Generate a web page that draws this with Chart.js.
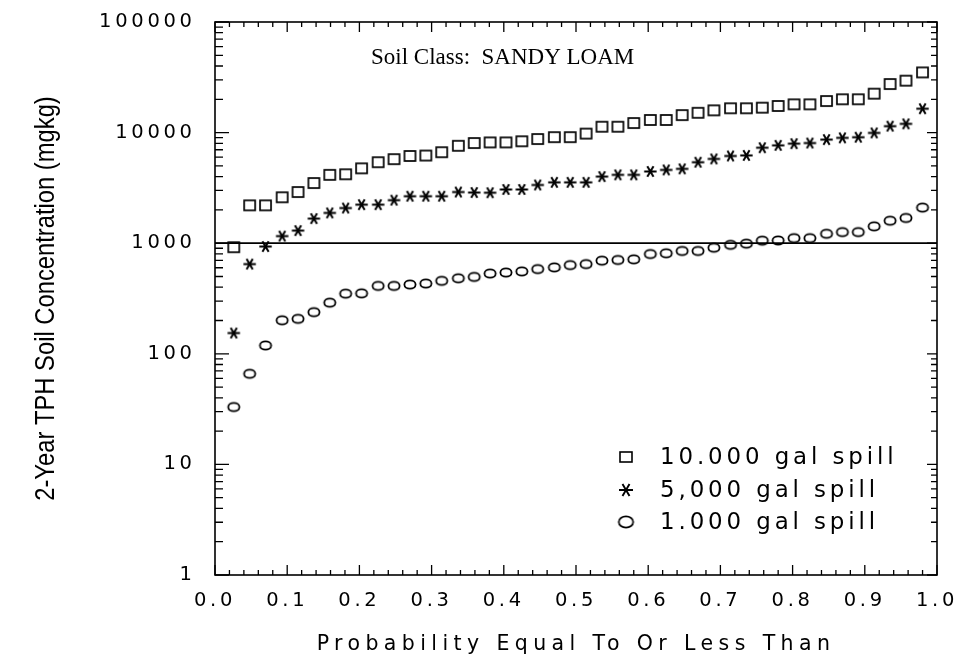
<!DOCTYPE html>
<html>
<head>
<meta charset="utf-8">
<script src="https://cdn.jsdelivr.net/npm/chart.js@4/dist/chart.umd.min.js"></script>
<style>
  html, body { margin: 0; padding: 0; background: #ffffff; }
  canvas { display: block; }
</style>
</head>
<body>
<canvas id="chart" width="961" height="666"></canvas>
<script>
// Cumulative probability of each ranked simulation result
const probability = [
  0.026, 0.048, 0.070, 0.093, 0.115, 0.137, 0.159, 0.181, 0.203, 0.226, 0.248,
  0.270, 0.292, 0.314, 0.337, 0.359, 0.381, 0.403, 0.425, 0.447, 0.470, 0.492,
  0.514, 0.536, 0.558, 0.580, 0.603, 0.625, 0.647, 0.669, 0.691, 0.714, 0.736,
  0.758, 0.780, 0.802, 0.824, 0.847, 0.869, 0.891, 0.913, 0.935, 0.957, 0.980
];

// 2-year TPH soil concentration (mg/kg) for each spill volume
const spill10000 = [
  920, 2200, 2200, 2600, 2900, 3500, 4150, 4200, 4750, 5400, 5750,
  6150, 6200, 6650, 7600, 8050, 8150, 8150, 8350, 8750, 9100, 9100,
  9800, 11300, 11300, 12200, 13000, 13000, 14400, 15100, 15900, 16600, 16600,
  16800, 17400, 18000, 18000, 19300, 20000, 20000, 22500, 27500, 29500, 35000
];
const spill5000 = [
  154, 647, 933, 1160, 1300, 1670, 1880, 2080, 2230, 2230, 2450,
  2660, 2660, 2660, 2900, 2870, 2860, 3060, 3060, 3360, 3550, 3550,
  3550, 4000, 4150, 4150, 4450, 4600, 4700, 5400, 5780, 6150, 6220,
  7300, 7670, 7940, 8050, 8650, 8960, 9080, 9940, 11430, 12000, 16440
];
const spill1000 = [
  33, 66, 119, 201, 207, 238, 290, 350, 352, 411, 411,
  423, 432, 457, 482, 496, 532, 543, 556, 583, 604, 634,
  647, 695, 705, 715, 798, 811, 851, 851, 910, 966, 990,
  1055, 1059, 1111, 1111, 1216, 1260, 1260, 1420, 1597, 1690, 2100
];

const seriesLabels = ['10.000 gal spill', '5,000 gal spill', '1.000 gal spill'];

// Horizontal reference level across the full probability range
const referenceX = [0, 1];
const referenceLevel = [1000, 1000];

const xTickLabels = ['0.0', '0.1', '0.2', '0.3', '0.4', '0.5', '0.6', '0.7', '0.8', '0.9', '1.0'];
const yTickLabels = ['1', '10', '100', '1000', '10000', '100000'];

const xTitle = 'Probability Equal To Or Less Than';
const yTitle = '2-Year TPH Soil Concentration (mgkg)';
const soilClassNote = 'Soil Class:  SANDY LOAM';

const SANS = '"DejaVu Sans", Verdana, sans-serif';
const NARROW = '"Liberation Sans", Arial, sans-serif';
const SERIF = '"Liberation Serif", "Times New Roman", serif';

// ---- marker glyphs (open square, asterisk, open ellipse) ----
function makeMarker(w, h, lw, draw) {
  const c = document.createElement('canvas');
  c.width = w; c.height = h;
  const g = c.getContext('2d');
  g.strokeStyle = '#000';
  g.lineWidth = lw;
  g.lineCap = 'butt';
  draw(g, w / 2, h / 2);
  return c;
}
function squareGlyph(w, h, lw) {
  return makeMarker(w + 4, h + 4, lw, (g, cx, cy) => g.strokeRect(cx - w / 2, cy - h / 2, w, h));
}
function starGlyph(r, lw) {
  const s = Math.ceil(2 * r + 4);
  return makeMarker(s, s, lw, (g, cx, cy) => {
    g.beginPath();
    for (const a of [0, Math.PI / 3, 2 * Math.PI / 3]) {
      const dx = r * Math.cos(a), dy = r * Math.sin(a);
      g.moveTo(cx - dx, cy - dy);
      g.lineTo(cx + dx, cy + dy);
    }
    g.stroke();
  });
}
function ellipseGlyph(rx, ry, lw) {
  return makeMarker(Math.ceil(2 * rx + 4), Math.ceil(2 * ry + 4), lw, (g, cx, cy) => {
    g.beginPath();
    g.ellipse(cx, cy, rx, ry, 0, 0, Math.PI * 2);
    g.stroke();
  });
}

const markers = [squareGlyph(11, 10, 1.7), starGlyph(6.2, 2), ellipseGlyph(5.6, 4.2, 1.8)];
const legendMarkers = [squareGlyph(12, 10, 1.6), starGlyph(7, 1.9), ellipseGlyph(7.2, 5.6, 1.7)];

function points(values) {
  return values.map((v, i) => ({ x: probability[i], y: v }));
}

// Letter spacing (and optional lengthwise squeeze of the title) for a scale
function styleScaleText(scale, titleSpacing, labelSpacing, titleSqueeze) {
  if (scale.$styled) return;
  scale.$styled = true;
  const drawTitle = scale.drawTitle;
  const drawLabels = scale.drawLabels;
  scale.drawTitle = function (...args) {
    const c = this.ctx;
    c.save();
    c.letterSpacing = titleSpacing;
    if (titleSqueeze !== 1) {
      const cy = (this.top + this.bottom) / 2;
      c.translate(0, cy);
      c.scale(1, titleSqueeze);
      c.translate(0, -cy);
    }
    drawTitle.apply(this, args);
    c.restore();
  };
  scale.drawLabels = function (...args) {
    const c = this.ctx;
    c.save();
    c.letterSpacing = labelSpacing;
    drawLabels.apply(this, args);
    c.restore();
  };
}

// Frame, inward ticks, legend and soil-class note
const decorations = {
  id: 'decorations',
  afterDraw(chart) {
    const { ctx, chartArea: a, scales } = chart;
    const xs = scales.x, ys = scales.y;
    ctx.save();
    ctx.strokeStyle = '#000';
    ctx.fillStyle = '#000';

    ctx.lineWidth = 1.6;
    ctx.strokeRect(a.left, a.top, a.right - a.left, a.bottom - a.top);

    // x ticks every 0.02, longer at each 0.1
    ctx.lineWidth = 1.3;
    ctx.beginPath();
    for (let i = 0; i <= 50; i++) {
      const px = xs.getPixelForValue(i / 50);
      const len = i % 5 === 0 ? 10 : 5;
      ctx.moveTo(px, a.bottom); ctx.lineTo(px, a.bottom - len);
      ctx.moveTo(px, a.top); ctx.lineTo(px, a.top + len);
    }
    // y ticks at 1..9 of each decade
    for (let e = 0; e <= 5; e++) {
      for (let m = 1; m <= 9; m++) {
        if (e === 5 && m > 1) break;
        const py = ys.getPixelForValue(m * Math.pow(10, e));
        const major = m === 1;
        ctx.moveTo(a.left, py); ctx.lineTo(a.left + (major ? 14 : 8), py);
        ctx.moveTo(a.right, py); ctx.lineTo(a.right - (major ? 10 : 6), py);
      }
    }
    ctx.stroke();

    // soil class note
    ctx.font = '23px ' + SERIF;
    ctx.textAlign = 'left';
    ctx.textBaseline = 'alphabetic';
    ctx.letterSpacing = '0px';
    ctx.fillText(soilClassNote, a.left + 156, a.top + 42);

    // legend
    ctx.font = '22.9px ' + SANS;
    ctx.letterSpacing = '3.9px';
    ctx.textBaseline = 'middle';
    const rows = [a.bottom - 118, a.bottom - 85, a.bottom - 53];
    chart.data.datasets.slice(0, 3).forEach((ds, i) => {
      const m = legendMarkers[i];
      ctx.drawImage(m, 626 - m.width / 2, rows[i] - m.height / 2);
      ctx.fillText(ds.label, 660, rows[i] + 1);
    });
    ctx.restore();
  }
};

const scatterStyle = (label, values, marker) => ({
  type: 'scatter',
  label,
  data: points(values),
  pointStyle: marker,
  pointRadius: 6,
  showLine: false,
  borderColor: '#000',
  backgroundColor: 'rgba(0,0,0,0)'
});

new Chart(document.getElementById('chart'), {
  type: 'scatter',
  data: {
    datasets: [
      scatterStyle(seriesLabels[0], spill10000, markers[0]),
      scatterStyle(seriesLabels[1], spill5000, markers[1]),
      scatterStyle(seriesLabels[2], spill1000, markers[2]),
      {
        type: 'line',
        label: 'reference',
        data: referenceX.map((x, i) => ({ x, y: referenceLevel[i] })),
        borderColor: '#000',
        borderWidth: 1.8,
        pointRadius: 0,
        fill: false
      }
    ]
  },
  options: {
    responsive: false,
    animation: false,
    devicePixelRatio: 1,
    layout: { padding: { top: 22, right: 24, left: 0, bottom: 0 } },
    plugins: {
      legend: { display: false },
      tooltip: { enabled: false }
    },
    scales: {
      x: {
        type: 'linear',
        position: 'bottom',
        min: 0,
        max: 1,
        grid: { display: false, drawTicks: false },
        border: { display: false },
        ticks: {
          stepSize: 0.1,
          autoSkip: false,
          maxRotation: 0,
          padding: 13.8,
          color: '#000',
          font: { family: SANS, size: 19.5 },
          callback: (v, i) => xTickLabels[i]
        },
        title: {
          display: true,
          text: xTitle,
          color: '#000',
          font: { family: SANS, size: 20.5 },
          padding: { top: 0, bottom: 8.7 }
        },
        afterFit: s => { s.height = 91; s.paddingLeft = 0; s.paddingRight = 0; },
        afterUpdate: s => styleScaleText(s, '5.4px', '3.7px', 1)
      },
      y: {
        type: 'logarithmic',
        position: 'left',
        min: 1,
        max: 100000,
        grid: { display: false, drawTicks: false },
        border: { display: false },
        ticks: {
          autoSkip: false,
          padding: 19.3,
          color: '#000',
          font: { family: SANS, size: 19.5 },
          callback: v => yTickLabels.find(l => Number(l) === Math.round(v)) || ''
        },
        title: {
          display: true,
          text: yTitle,
          color: '#000',
          font: { family: NARROW, size: 27 },
          padding: { top: 30, bottom: 0 }
        },
        afterFit: s => { s.width = 215; s.paddingTop = 0; s.paddingBottom = 0; },
        afterUpdate: s => styleScaleText(s, '0px', '3.7px', 0.88)
      }
    }
  },
  plugins: [decorations]
});
</script>
</body>
</html>
